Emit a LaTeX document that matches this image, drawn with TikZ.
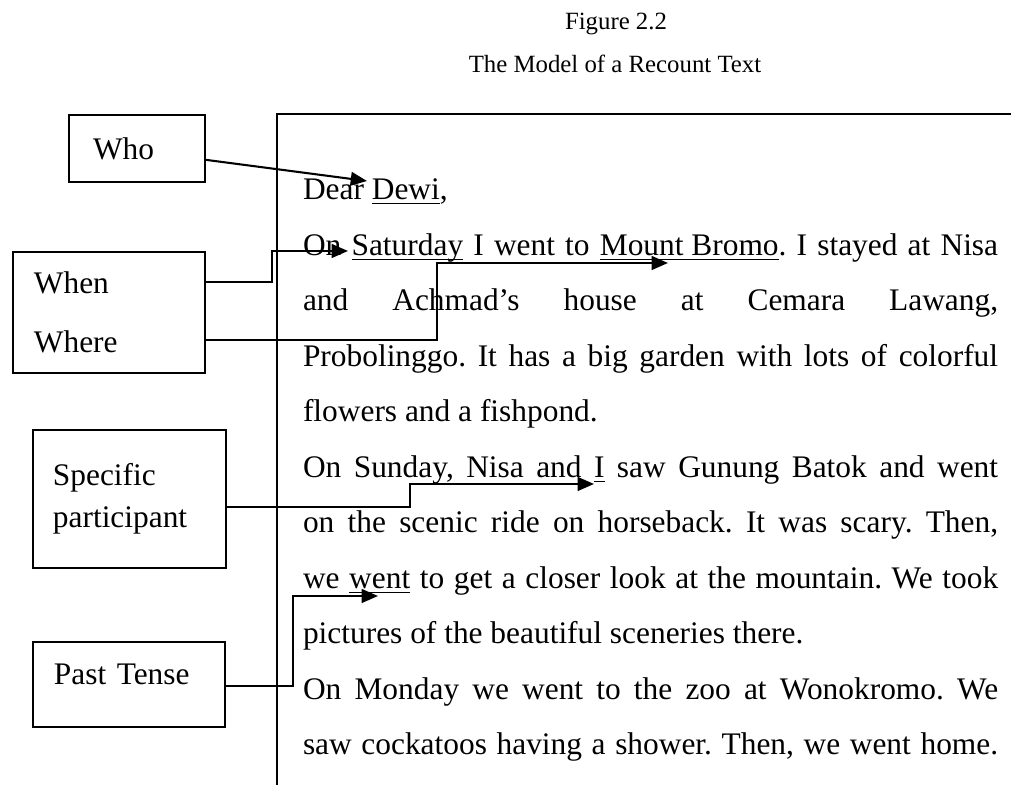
\documentclass[tikz,border=0pt]{standalone}
\usepackage{fontspec}
\setmainfont{Liberation Serif}
\usetikzlibrary{arrows.meta}
\frenchspacing

\newcommand\uln[1]{\setbox0\hbox{#1}\rlap{\rule[-1.7pt]{\wd0}{0.45pt}}\box0\relax}
\newcommand\linew{269pt}

\begin{document}
\begin{tikzpicture}[x=0.387pt, y=-0.387pt, line width=0.8pt,
                    >={Triangle[length=6.3pt,width=5.3pt]},
                    font=\fontsize{12.15}{16.3}\selectfont]
    \tikzstyle{tag}=[draw, anchor=north west, align=left, inner ysep=0pt]
    \tikzstyle{txt}=[anchor=base west, inner sep=0pt]
    \tikzstyle{title}=[anchor=base, inner sep=0pt, font=\fontsize{9.6}{11}\selectfont]

    \useasboundingbox (0,0) rectangle (1011,785);

    \node[title] (fig)   at (616,30) {Figure 2.2};
    \node[title] (model) at (615,73) {The Model of a Recount Text};

    \draw (1011,114) -- (277,114) -- (277,785);

    \node[tag, text width=34pt, inner xsep=9.3pt, minimum height=25.9pt]   (who)    at (68,114)  {Who};
    \node[tag, text width=58.1pt, inner xsep=8.1pt, minimum height=46.8pt] (ww)     at (12,251)  {When\\[6.5pt]Where};
    \node[tag, text width=59.3pt, inner xsep=7.7pt, minimum height=53.4pt] (partic) at (32,429)  {Specific\\participant};
    \node[tag, text width=58.1pt, inner xsep=8.1pt, minimum height=32.9pt] (past)   at (32,641)  {\raisebox{7.7pt}{Past Tense}};

    \node[txt] (l0)  at (302,200)   {Dear \uln{Dewi},};
    \node[txt] (l1)  at (302,255.5) {\makebox[\linew][s]{On \uln{Saturday} I went to \uln{Mount Bromo}. I stayed at Nisa}};
    \node[txt] (l2)  at (302,311)   {\makebox[\linew][s]{and Achmad’s house at Cemara Lawang,}};
    \node[txt] (l3)  at (302,366.5) {\makebox[\linew][s]{Probolinggo. It has a big garden with lots of colorful}};
    \node[txt] (l4)  at (302,422)   {flowers and a fishpond.};
    \node[txt] (l5)  at (302,477.5) {\makebox[\linew][s]{On Sunday, Nisa and \uln{I} saw Gunung Batok and went}};
    \node[txt] (l6)  at (302,533)   {\makebox[\linew][s]{on the scenic ride on horseback. It was scary. Then,}};
    \node[txt] (l7)  at (302,588.5) {\makebox[\linew][s]{we \uln{went} to get a closer look at the mountain. We took}};
    \node[txt] (l8)  at (302,644)   {pictures of the beautiful sceneries there.};
    \node[txt] (l9)  at (302,699.5) {\makebox[\linew][s]{On Monday we went to the zoo at Wonokromo. We}};
    \node[txt] (l10) at (302,755)   {\makebox[\linew][s]{saw cockatoos having a shower. Then, we went home.}};

    \coordinate (dewi)     at (367,181);
    \coordinate (saturday) at (348,251);
    \coordinate (bromo)    at (668,263);
    \coordinate (sunI)     at (594,484);
    \coordinate (went)     at (378,596);

    \draw[->] ([yshift=-4.4pt]who.east) -- (dewi);
    \draw[->] (ww.east |- 0,282) -| (272,251) -- (saturday);
    \draw[->] (ww.east |- 0,340) -| (437,263) -- (bromo);
    \draw[->] (partic.east |- 0,507) -| (410,484) -- (sunI);
    \draw[->] (past.east |- 0,686) -| (293,596) -- (went);
\end{tikzpicture}
\end{document}
